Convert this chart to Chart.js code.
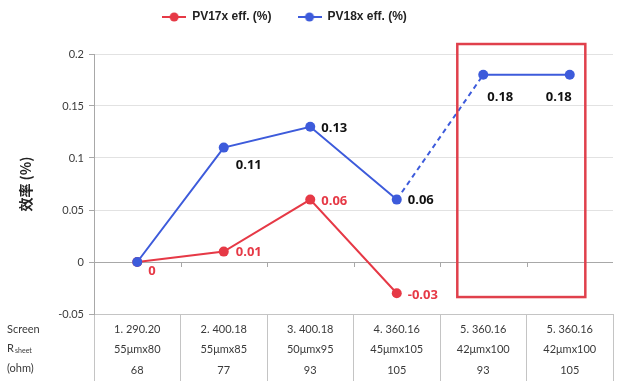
<!DOCTYPE html>
<html>
<head>
<meta charset="utf-8">
<script src="https://cdn.jsdelivr.net/npm/chart.js@4.4.1/dist/chart.umd.min.js"></script>
<style>
  html, body { margin: 0; padding: 0; background: #fff; }
</style>
</head>
<body>
<canvas id="myChart" width="620" height="381"></canvas>
<script>
//////////////////////
// data
//////////////////////
const screenLabels = ['1. 290.20', '2. 400.18', '3. 400.18', '4. 360.16', '5. 360.16', '5. 360.16'];
const meshLabels = ['55μmx80', '55μmx85', '50μmx95', '45μmx105', '42μmx100', '42μmx100'];
const ohmLabels = ['68', '77', '93', '105', '93', '105'];
const pv17Values = [0, 0.01, 0.06, -0.03, null, null];
const pv18Values = [0, 0.11, 0.13, 0.06, 0.18, 0.18];
const yTicks = [-0.05, 0, 0.05, 0.1, 0.15, 0.2];

//////////////////////
// styles
//////////////////////
const red = '#e63946';
const blue = '#3d5bdb';
const axisGray = '#a8a8a8';
const textGray = '#3a3a3a';
const tickFont = { family: 'Lato', size: 11 };

// label placement per point: [dx, dy, align]
const pv17LabelPos = [[11, 9, 'left'], [12, 1, 'left'], [11, 2, 'left'], [11, 2, 'left']];
const pv18LabelPos = [null, [12, 18, 'left'], [11, 1, 'left'], [11, 1, 'left'], [4, 22, 'left'], [2, 22, 'right']];

function makeLegendMarker(color) {
  const c = document.createElement('canvas');
  c.width = 24;
  c.height = 12;
  const g = c.getContext('2d');
  g.strokeStyle = color;
  g.lineWidth = 2;
  g.beginPath();
  g.moveTo(0, 6);
  g.lineTo(24, 6);
  g.stroke();
  g.fillStyle = color;
  g.beginPath();
  g.arc(12, 6, 4.5, 0, Math.PI * 2);
  g.fill();
  return c;
}
const legendMarkers = [makeLegendMarker(red), makeLegendMarker(blue)];

//////////////////////
// plugins
//////////////////////
// nudge the legend: a bit left, and up into the top padding
const legendShift = {
  id: 'legendShift',
  afterLayout(chart) {
    chart.legend.left -= 22;
    chart.legend.right -= 22;
    chart.legend.top -= 21;
    chart.legend.bottom -= 21;
  }
};

const valueLabels = {
  id: 'valueLabels',
  afterDatasetsDraw(chart) {
    const ctx = chart.ctx;
    const placements = [pv17LabelPos, pv18LabelPos];
    const colors = [red, '#111'];
    ctx.save();
    ctx.font = 'bold 13px "Open Sans"';
    ctx.textBaseline = 'middle';
    chart.data.datasets.forEach((ds, di) => {
      const meta = chart.getDatasetMeta(di);
      meta.data.forEach((pt, i) => {
        const p = placements[di][i];
        if (!p || ds.data[i] === null) return;
        ctx.fillStyle = colors[di];
        ctx.textAlign = p[2];
        ctx.fillText(String(ds.data[i]), pt.x + p[0], pt.y + p[1]);
      });
    });
    ctx.restore();
  }
};

const highlightBox = {
  id: 'highlightBox',
  afterDatasetsDraw(chart) {
    const x = chart.scales.x;
    const y = chart.scales.y;
    const ctx = chart.ctx;
    const left = x.getPixelForValue(3.7);
    const right = x.getPixelForValue(5.18);
    const top = y.getPixelForValue(0.2096);
    const bottom = y.getPixelForValue(-0.0337);
    ctx.save();
    ctx.strokeStyle = '#e0404c';
    ctx.lineWidth = 2.5;
    ctx.strokeRect(left, top, right - left, bottom - top);
    ctx.restore();
  }
};

const zeroAxisTable = {
  id: 'zeroAxisTable',
  afterDraw(chart) {
    const x = chart.scales.x;
    const y = chart.scales.y;
    const ctx = chart.ctx;
    const y0 = y.getPixelForValue(0);
    const area = chart.chartArea;
    ctx.save();
    // small tick marks under the zero line
    ctx.strokeStyle = axisGray;
    ctx.lineWidth = 1;
    for (let i = 0; i < screenLabels.length - 1; i++) {
      const px = Math.round(x.getPixelForValue(i + 0.5)) + 0.5;
      ctx.beginPath();
      ctx.moveTo(px, y0);
      ctx.lineTo(px, y0 + 5);
      ctx.stroke();
    }
    // table text
    ctx.fillStyle = textGray;
    ctx.font = '11px Lato';
    ctx.textBaseline = 'middle';
    ctx.textAlign = 'center';
    const rows = [screenLabels, meshLabels, ohmLabels];
    const rowY = [15, 35, 56];
    for (let r = 0; r < rows.length; r++) {
      for (let i = 0; i < rows[r].length; i++) {
        ctx.fillText(rows[r][i], x.getPixelForValue(i), area.bottom + rowY[r]);
      }
    }
    // row headers
    ctx.textAlign = 'left';
    ctx.fillText('Screen', 7, area.bottom + 15);
    ctx.fillText('R', 7, area.bottom + 34);
    ctx.font = '7px Lato';
    ctx.fillText('sheet', 15, area.bottom + 37);
    ctx.font = '11px Lato';
    ctx.fillText('(ohm)', 7, area.bottom + 54);
    ctx.restore();
  }
};

//////////////////////
// chart
//////////////////////
const data = {
  labels: screenLabels,
  datasets: [{
    label: 'PV17x eff. (%)',
    data: pv17Values,
    borderColor: red,
    backgroundColor: red,
    pointBackgroundColor: red,
    borderWidth: 2,
    pointRadius: 5,
    pointBorderWidth: 0,
    order: 1
  },
  {
    label: 'PV18x eff. (%)',
    data: pv18Values,
    borderColor: blue,
    backgroundColor: blue,
    pointBackgroundColor: blue,
    borderWidth: 2,
    pointRadius: 5,
    pointBorderWidth: 0,
    order: 0,
    segment: {
      borderDash: ctx => (ctx.p0DataIndex === 3 ? [5, 4] : undefined)
    }
  }]
};

const config = {
  type: 'line',
  data: data,
  options: {
    responsive: false,
    animation: false,
    devicePixelRatio: 1,
    layout: { padding: { top: 6, right: 7, bottom: 0, left: 0 } },
    plugins: {
      tooltip: { enabled: false },
      legend: {
        labels: {
          usePointStyle: true,
          pointStyleWidth: 24,
          boxHeight: 12,
          padding: 26,
          color: '#222',
          font: { family: 'Liberation Sans', weight: 'bold', size: 12 },
          sort: (a, b) => a.datasetIndex - b.datasetIndex,
          generateLabels(chart) {
            const items = Chart.defaults.plugins.legend.labels.generateLabels(chart);
            items.forEach(item => { item.pointStyle = legendMarkers[item.datasetIndex]; });
            return items;
          }
        }
      }
    },
    scales: {
      x: {
        offset: true,
        border: { display: false },
        ticks: { display: false },
        grid: { offset: true, drawOnChartArea: false, tickLength: 67, color: '#c4c4c4' },
        afterFit(scale) { scale.height = 67; }
      },
      y: {
        min: -0.05,
        max: 0.2,
        afterBuildTicks(scale) { scale.ticks = yTicks.map(v => ({ value: v })); },
        border: { color: axisGray },
        grid: {
          tickLength: 5,
          tickColor: axisGray,
          color: ctx => {
            if (ctx.tick.value === 0) return axisGray;
            if (ctx.tick.value === -0.05) return '#c4c4c4';
            return '#e2e2e2';
          }
        },
        ticks: {
          padding: 5,
          color: textGray,
          font: tickFont,
          callback: v => String(parseFloat(Number(v).toFixed(2)))
        },
        title: {
          display: true,
          text: '效率 (%)',
          color: '#222',
          padding: { top: 17, bottom: 0 },
          font: { family: 'Noto Sans CJK SC', weight: 'bold', size: 14 }
        },
        afterFit(scale) { scale.width = 94; }
      }
    }
  },
  plugins: [legendShift, highlightBox, valueLabels, zeroAxisTable]
};

const canvasChart = document.getElementById('myChart');
const myChart = new Chart(canvasChart, config);
</script>
</body>
</html>
